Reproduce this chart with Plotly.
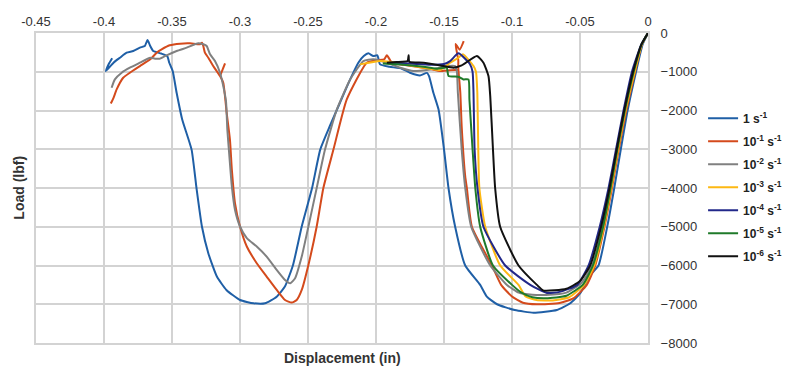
import plotly.graph_objects as go

# ---------------- data (displacement in, load lbf) ----------------
names = ["1 s<sup>-1</sup>", "10<sup>-1</sup> s<sup>-1</sup>", "10<sup>-2</sup> s<sup>-1</sup>",
         "10<sup>-3</sup> s<sup>-1</sup>", "10<sup>-4</sup> s<sup>-1</sup>",
         "10<sup>-5</sup> s<sup>-1</sup>", "10<sup>-6</sup> s<sup>-1</sup>"]
colors = ["#1f5fa6", "#d44a1c", "#808080", "#fdb813", "#22288a", "#1f7a2a", "#111111"]

x_1 = [0, -0.004, -0.0088, -0.015, -0.020, -0.0248, -0.030, -0.0364, -0.0425, -0.0498, -0.0572,
       -0.067, -0.0842, -0.098, -0.111, -0.1185, -0.1234, -0.1344, -0.1418, -0.1467, -0.150,
       -0.154, -0.1578, -0.161, -0.1625, -0.1677, -0.175, -0.181, -0.190, -0.197, -0.199, -0.202,
       -0.2056, -0.209, -0.213, -0.219, -0.2265, -0.234, -0.241, -0.247, -0.2546, -0.261, -0.267,
       -0.273, -0.2816, -0.290, -0.300, -0.310, -0.317, -0.3233, -0.328, -0.332, -0.3356, -0.3425,
       -0.3466, -0.3495, -0.352, -0.3535, -0.358, -0.3638, -0.366, -0.368, -0.370, -0.3736,
       -0.3785, -0.3834, -0.3883, -0.393, -0.3986, -0.3965, -0.394]
y_1 = [0, -300, -1000, -2000, -3000, -4000, -5000, -6000, -6250, -6716, -6975,
       -7148, -7218, -7150, -7000, -6804, -6500, -6000, -5000, -4000, -3000,
       -1975, -1543, -1112, -1030, -1095, -1025, -922, -870, -810, -577, -595,
       -525, -595, -767, -1198, -1800, -2406, -3009, -4000, -4993, -5985, -6545,
       -6804, -6975, -6975, -6890, -6631, -6286, -5682, -4993, -4000, -3009, -2233,
       -1543, -983, -767, -595, -530, -465, -336, -181, -336, -378,
       -465, -508, -638, -767, -983, -800, -650]

x_2 = [0, -0.0045, -0.0095, -0.016, -0.0215, -0.0265, -0.032, -0.0388, -0.045, -0.055, -0.065,
       -0.0817, -0.092, -0.100, -0.108, -0.1148, -0.1295, -0.1332, -0.1344, -0.137, -0.138,
       -0.1395, -0.1395, -0.1415, -0.1385, -0.1355, None,
       -0.1395, -0.1455, -0.1528, -0.160, -0.170, -0.180, -0.188, -0.192, -0.194, -0.200,
       -0.2068, -0.2215, -0.2313, -0.2387, -0.2436, -0.2497, -0.2546, -0.2583, -0.262, -0.2669,
       -0.273, -0.2804, -0.2877, -0.295, -0.300, -0.3037, -0.306, -0.3074, -0.3098, -0.3123,
       -0.3147, -0.3197, -0.3233, -0.3258, -0.327, -0.328, -0.3294, -0.3368, -0.344, -0.3517,
       -0.3576, -0.3613, -0.366, -0.3736, -0.381, -0.3859, -0.3907, -0.393, -0.395, None,
       -0.3147, -0.311]
y_2 = [0, -300, -1000, -2000, -3000, -4000, -5000, -6000, -6500, -6850, -6970,
       -7000, -6960, -6800, -6500, -6000, -5000, -4000, -3700, -2406, -1543,
       -900, -700, -280, -430, -210, None,
       -950, -960, -983, -930, -870, -820, -780, -577, -680, -700,
       -767, -1715, -3009, -4000, -4993, -5985, -6631, -6890, -6958, -6890,
       -6631, -6286, -5941, -5510, -4993, -4388, -3526, -2750, -2060, -1283,
       -1112, -853, -638, -508, -336, -250, -292, -267, -275, -318,
       -422, -508, -680, -853, -1025, -1155, -1456, -1672, -1820, None,
       -1112, -784]

x_3 = [0, -0.0047, -0.0105, -0.0172, -0.0228, -0.028, -0.0335, -0.041, -0.049, -0.060, -0.075,
       -0.085, -0.095, -0.1037, -0.116, -0.130, -0.1344, -0.137, -0.1398, -0.1405, -0.1418,
       -0.1467, -0.160, -0.1725, -0.1822, -0.192, -0.2019, -0.2093, -0.219, -0.2288, -0.2375,
       -0.2436, -0.2497, -0.2546, -0.2595, -0.263, -0.2669, -0.273, -0.2804, -0.2877, -0.295,
       -0.300, -0.3037, -0.306, -0.308, -0.3093, -0.3103, -0.3123, -0.3147, -0.3184, -0.322,
       -0.3245, -0.327, -0.3307, -0.3392, -0.3466, -0.354, -0.3589, -0.3625, -0.366, -0.3736,
       -0.381, -0.387, -0.392, -0.3944]
y_3 = [0, -300, -1000, -2000, -3000, -4000, -5000, -6000, -6450, -6700, -6760,
       -6755, -6700, -6500, -6000, -5000, -4000, -3000, -1543, -1000, -853,
       -853, -940, -983, -896, -767, -680, -724, -1198, -1975, -3009,
       -4000, -4993, -5769, -6329, -6458, -6372, -6113, -5769, -5510, -5293,
       -4993, -4561, -3958, -3094, -2500, -1759, -1371, -1025, -724, -551,
       -336, -292, -267, -378, -465, -577, -663, -663, -638, -767,
       -896, -1025, -1198, -1413]

x_4 = [0, -0.0046, -0.0098, -0.0165, -0.022, -0.027, -0.0325, -0.0395, -0.047, -0.058, -0.070,
       -0.082, -0.090, -0.0952, -0.1087, -0.1197, -0.124, -0.1248, -0.1255, -0.1265, -0.1283,
       -0.1361, -0.1394, -0.1455, -0.1528, -0.160, -0.1725, -0.1847, -0.197, -0.2117]
y_4 = [0, -300, -1000, -2000, -3000, -4000, -5000, -6000, -6500, -6820, -6900,
       -6890, -6800, -6500, -6000, -5000, -4000, -3000, -1543, -1000, -853,
       -551, -638, -767, -957, -922, -853, -767, -724, -810]

x_5 = [0, -0.005, -0.0118, -0.018, -0.0235, -0.029, -0.0355, -0.0437, -0.052, -0.065, -0.0743,
       -0.0866, -0.105, -0.121, -0.1254, -0.1275, -0.1283, -0.129, -0.131, -0.1394, -0.1455,
       -0.150, -0.160, -0.175, -0.190]
y_5 = [0, -300, -1000, -2000, -3000, -4000, -5000, -6000, -6500, -6680, -6710,
       -6500, -6000, -5000, -4000, -3000, -1543, -1000, -800, -525, -724,
       -800, -820, -790, -770]

x_6 = [0, -0.0048, -0.0105, -0.017, -0.0225, -0.0275, -0.033, -0.0405, -0.048, -0.060, -0.075,
       -0.085, -0.093, -0.100, -0.114, -0.1234, -0.127, -0.129, -0.1313, -0.132, -0.1357,
       -0.1394, -0.1467, -0.148, -0.155, -0.165, -0.180, -0.195]
y_6 = [0, -300, -1000, -2000, -3000, -4000, -5000, -6000, -6500, -6780, -6846,
       -6820, -6700, -6500, -6000, -5000, -4000, -3000, -1715, -1198, -1198,
       -1128, -1112, -896, -920, -870, -820, -790]

x_7 = [0, -0.0049, -0.011, -0.0175, -0.023, -0.0283, -0.0345, -0.0425, -0.050, -0.060, -0.0768,
       -0.0817, -0.0952, -0.1087, -0.1124, -0.114, -0.116, -0.1173, -0.121, -0.1258, -0.137,
       -0.143, -0.1528, -0.165, -0.1755, -0.176, -0.1768, -0.185, -0.192]
y_7 = [0, -300, -1000, -2000, -3000, -4000, -5000, -6000, -6400, -6600, -6648,
       -6500, -6000, -5000, -4000, -3000, -1630, -1112, -767, -595, -836,
       -896, -836, -767, -740, -577, -724, -750, -767]

xs = [x_1, x_2, x_3, x_4, x_5, x_6, x_7]
ys = [y_1, y_2, y_3, y_4, y_5, y_6, y_7]

x_ticks = [-0.45, -0.4, -0.35, -0.3, -0.25, -0.2, -0.15, -0.1, -0.05, 0]
x_tick_text = ["-0.45", "-0.4", "-0.35", "-0.3", "-0.25", "-0.2", "-0.15", "-0.1", "-0.05", "0"]
y_ticks = [0, -1000, -2000, -3000, -4000, -5000, -6000, -7000, -8000]

# ---------------- figure ----------------
fig = go.Figure()
for i, (xv, yv, nm, c) in enumerate(zip(xs, ys, names, colors)):
    fig.add_trace(go.Scatter(x=xv, y=yv, mode="lines", name="<b>" + nm + "</b>",
                             legendgroup="g%d" % i,
                             line=dict(color=c, width=2, shape="spline", smoothing=0.5),
                             connectgaps=False))

grid = "#d3d3d3"
fig.update_layout(
    width=787, height=374,
    margin=dict(l=36, r=139, t=33, b=31, autoexpand=False),
    paper_bgcolor="white", plot_bgcolor="white",
    font=dict(family="Liberation Sans, Arial, sans-serif", size=13, color="#333333"),
    showlegend=True,
    legend=dict(x=1.09, xanchor="left", y=0.772, yanchor="top",
                font=dict(size=12, color="#222222"), tracegroupgap=4,
                bgcolor="rgba(0,0,0,0)"),
    xaxis=dict(range=[-0.45, 0], side="top", tickvals=x_ticks, ticktext=x_tick_text,
               showgrid=True, gridcolor=grid, gridwidth=1.5, zeroline=False,
               showline=True, linecolor=grid, linewidth=2, mirror=True,
               ticks="", tickfont=dict(size=13, color="#333333")),
    yaxis=dict(range=[-8000, 0], side="right", tickvals=y_ticks,
               showgrid=True, gridcolor=grid, gridwidth=1.5, zeroline=False,
               showline=True, linecolor=grid, linewidth=2, mirror=True,
               ticks="", ticklabelstandoff=8, tickfont=dict(size=13, color="#333333")),
    annotations=[
        dict(text="<b>Displacement (in)</b>", x=0.5, y=-0.015, xref="paper", yref="paper",
             xanchor="center", yanchor="top", showarrow=False,
             font=dict(size=14, color="#333333")),
        dict(text="<b>Load (lbf)</b>", x=-0.012, y=0.5, xref="paper", yref="paper",
             xanchor="right", yanchor="middle", textangle=-90, showarrow=False,
             font=dict(size=14, color="#333333")),
    ],
)

fig.write_html("out.html")
